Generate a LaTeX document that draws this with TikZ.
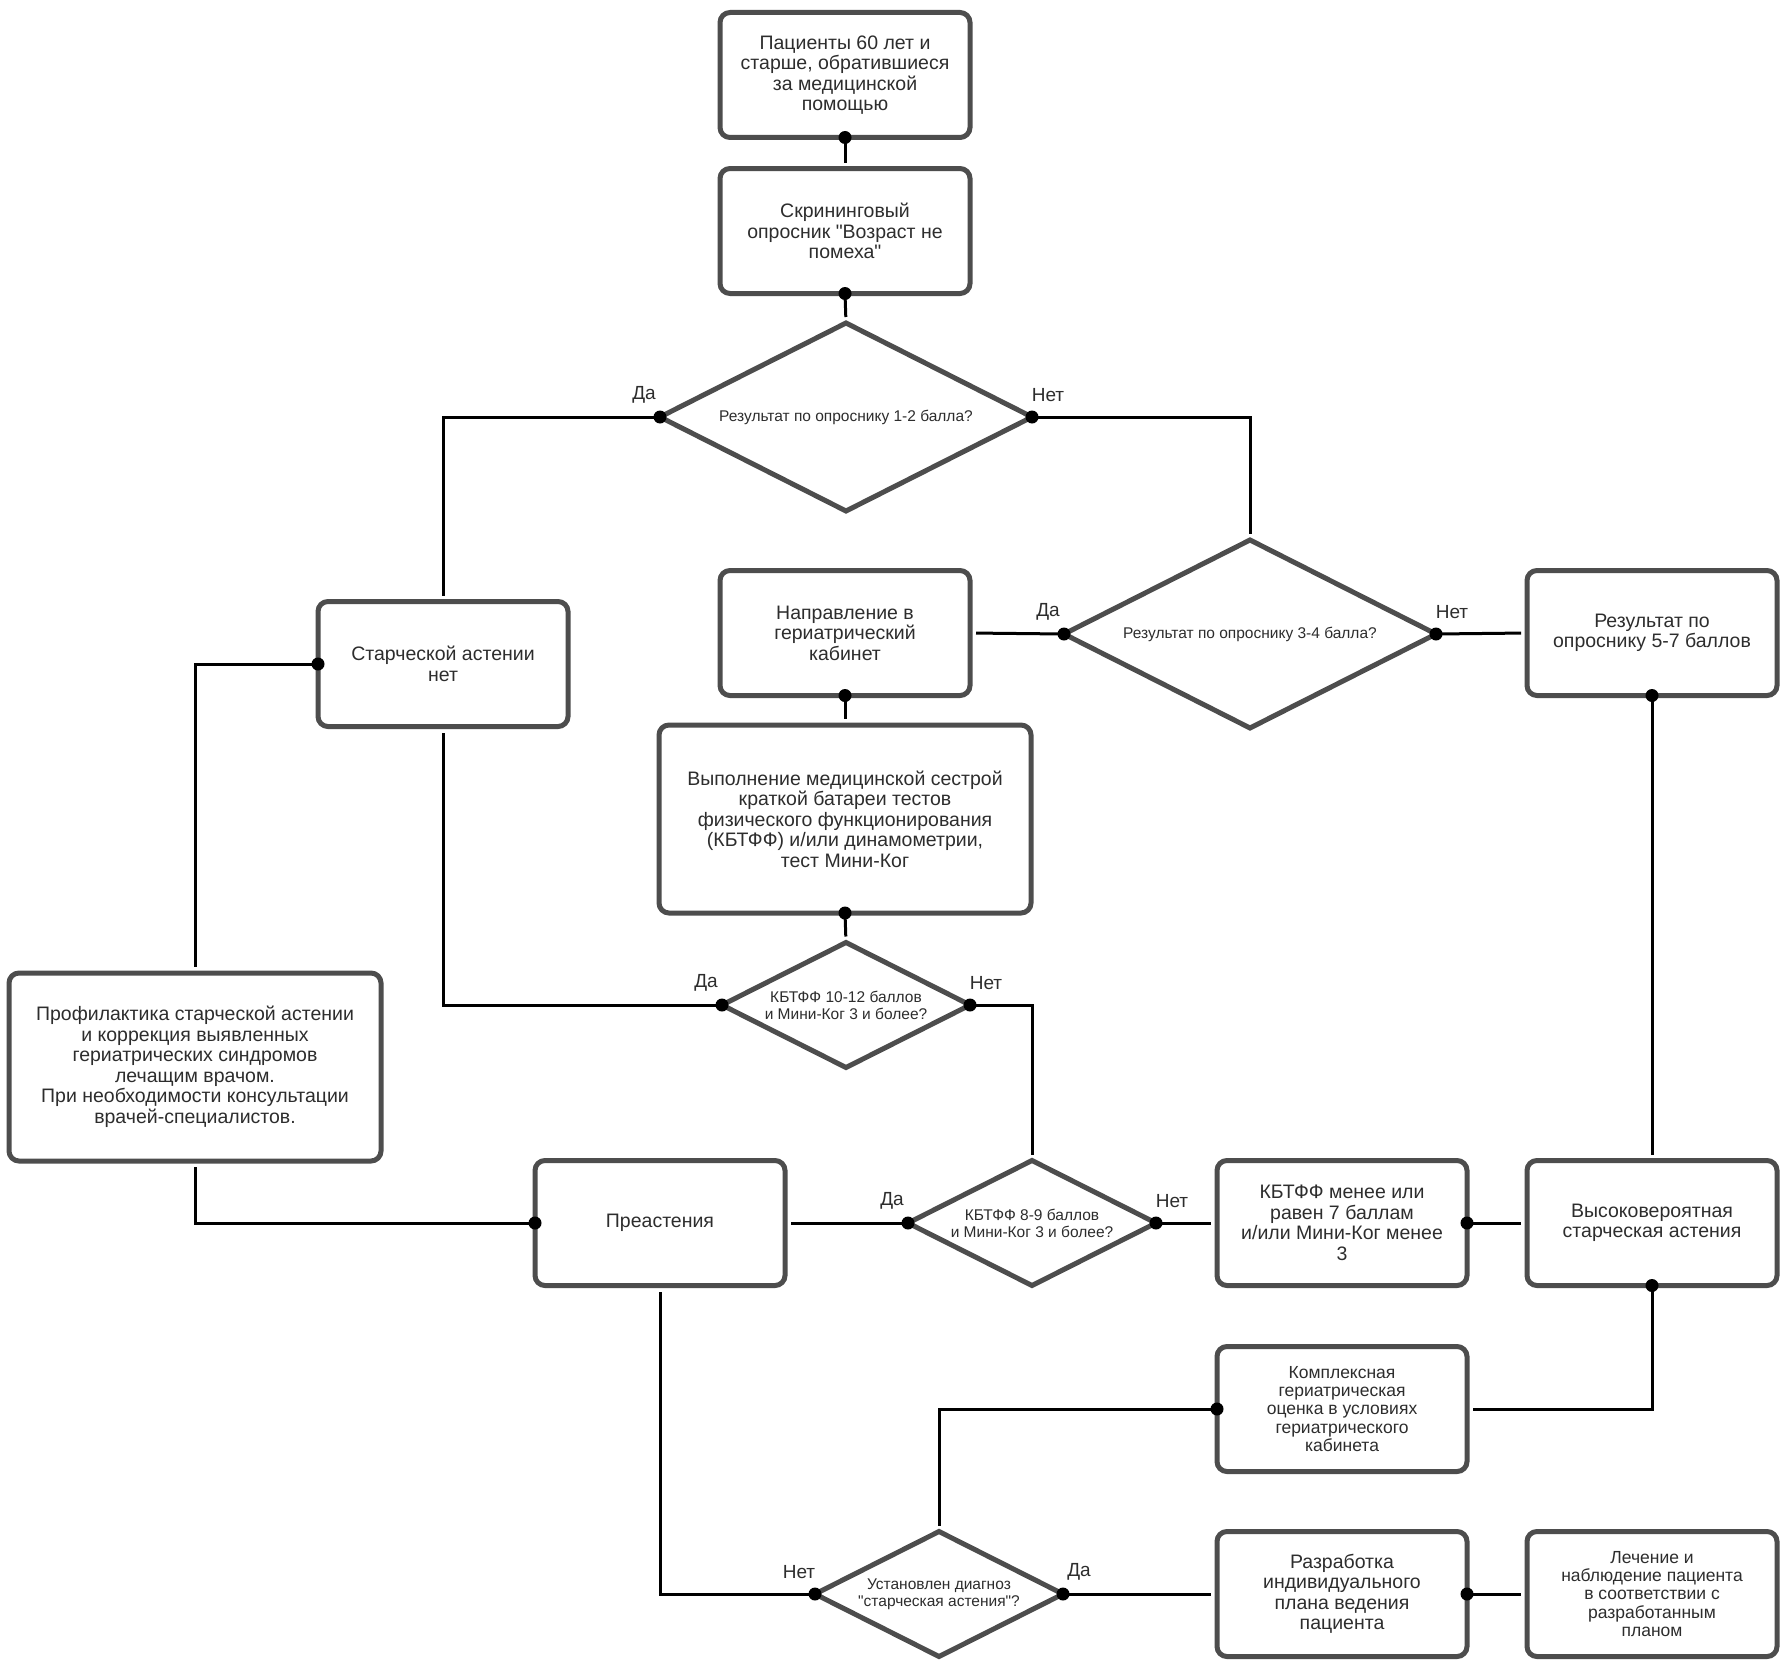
\documentclass[tikz,border=0pt]{standalone}
\usepackage{fontspec}
\setmainfont{Liberation Sans}
\newfontfamily\libsans{Liberation Sans}
\usetikzlibrary{shapes.geometric}
\definecolor{bord}{RGB}{77,77,77}
\definecolor{txt}{RGB}{45,45,45}
\newcommand\dotat[1]{\fill[black] (#1) circle (6.5pt);}
\begin{document}
\begin{tikzpicture}[x=1pt,y=-1pt,
 box/.style={draw=bord, line width=5pt, rounded corners=10pt, fill=white, minimum width=250pt, minimum height=125pt, align=center, outer sep=0pt, inner sep=2pt, text=txt, font=\libsans\fontsize{19.5}{20.5}\selectfont},
 bigbox/.style={box, minimum width=372pt, minimum height=188pt},
 smallfont/.style={font=\libsans\fontsize{17.5}{18.2}\selectfont},
 dia/.style={diamond, draw=bord, line width=5pt, fill=white, aspect=2, inner sep=0pt, outer sep=0pt, align=center, text=txt, font=\libsans\fontsize{15.5}{16.8}\selectfont},
 bigdia/.style={dia, minimum width=372pt, minimum height=188pt},
 smalldia/.style={dia, minimum width=248pt, minimum height=125pt},
 conn/.style={line width=3pt, draw=black, shorten >=6pt},
 lab/.style={text=txt, font=\libsans\fontsize{19}{20}\selectfont},
]
\useasboundingbox[fill=white] (0,0) rectangle (1785,1667);

% nodes
\node[box] (b1) at (845,75) {Пациенты 60 лет и\\старше, обратившиеся\\за медицинской\\помощью};
\node[box] (b2) at (845,231) {Скрининговый\\опросник "Возраст не\\помеха"};
\node[bigdia] (d1) at (846,417) {Результат по опроснику 1-2 балла?};
\node[box] (st) at (443,664) {Старческой астении\\нет};
\node[bigdia] (d2) at (1250,634) {Результат по опроснику 3-4 балла?};
\node[box] (na) at (845,633) {Направление в\\гериатрический\\кабинет};
\node[box] (r57) at (1652,633) {Результат по\\опроснику 5-7 баллов};
\node[bigbox] (vy) at (845,819) {Выполнение медицинской сестрой\\краткой батареи тестов\\физического функционирования\\(КБТФФ) и/или динамометрии,\\тест Мини-Ког};
\node[smalldia] (d3) at (846,1005) {КБТФФ 10-12 баллов\\и Мини-Ког 3 и более?};
\node[bigbox] (pr) at (195,1067) {Профилактика старческой астении\\и коррекция выявленных\\гериатрических синдромов\\лечащим врачом.\\При необходимости консультации\\врачей-специалистов.};
\node[box] (pre) at (660,1223) {Преастения};
\node[smalldia] (d4) at (1032,1223) {КБТФФ 8-9 баллов\\и Мини-Ког 3 и более?};
\node[box] (kb) at (1342,1223) {КБТФФ менее или\\равен 7 баллам\\и/или Мини-Ког менее\\3};
\node[box] (vs) at (1652,1223) {Высоковероятная\\старческая астения};
\node[box, smallfont] (ko) at (1342,1409) {Комплексная\\гериатрическая\\оценка в условиях\\гериатрического\\кабинета};
\node[smalldia] (d5) at (939,1594) {Установлен диагноз\\"старческая астения"?};
\node[box] (ra) at (1342,1594) {Разработка\\индивидуального\\плана ведения\\пациента};
\node[box, smallfont] (le) at (1652,1594) {Лечение и\\наблюдение пациента\\в соответствии с\\разработанным\\планом};

% labels
\node[lab] (l1a) at ([xshift=-16pt,yshift=22pt]d1.west) {Да};
\node[lab] (l1b) at ([xshift=16pt,yshift=22pt]d1.east) {Нет};
\node[lab] (l2a) at ([xshift=-16pt,yshift=22pt]d2.west) {Да};
\node[lab] (l2b) at ([xshift=16pt,yshift=22pt]d2.east) {Нет};
\node[lab] (l3a) at ([xshift=-16pt,yshift=22pt]d3.west) {Да};
\node[lab] (l3b) at ([xshift=16pt,yshift=22pt]d3.east) {Нет};
\node[lab] (l4a) at ([xshift=-16pt,yshift=22pt]d4.west) {Да};
\node[lab] (l4b) at ([xshift=16pt,yshift=22pt]d4.east) {Нет};
\node[lab] (l5a) at ([xshift=-16pt,yshift=22pt]d5.west) {Нет};
\node[lab] (l5b) at ([xshift=16pt,yshift=22pt]d5.east) {Да};

% connectors
\draw[conn] (b1.south) -- (b2.north);
\draw[conn] (b2.south) -- (d1.north);
\draw[conn] (d1.west) -| (st.north);
\draw[conn] (d1.east) -| (d2.north);
\draw[conn] (d2.west) -- (na.east);
\draw[conn] (d2.east) -- (r57.west);
\draw[conn] (na.south) -- (vy.north);
\draw[conn] (vy.south) -- (d3.north);
\draw[conn] (d3.west) -| (st.south);
\draw[conn] (d3.east) -| (d4.north);
\draw[conn] (st.west) -| (pr.north);
\draw[conn] (pre.west) -| (pr.south);
\draw[conn] (d4.west) -- (pre.east);
\draw[conn] (d4.east) -- (kb.west);
\draw[conn] (kb.east) -- (vs.west);
\draw[conn] (r57.south) -- (vs.north);
\draw[conn] (vs.south) |- (ko.east);
\draw[conn] (ko.west) -| (d5.north);
\draw[conn] (d5.west) -| (pre.south);
\draw[conn] (d5.east) -- (ra.west);
\draw[conn] (ra.east) -- (le.west);

% dots
\dotat{b1.south}
\dotat{b2.south}
\dotat{d1.west}
\dotat{d1.east}
\dotat{d2.west}
\dotat{d2.east}
\dotat{na.south}
\dotat{vy.south}
\dotat{d3.west}
\dotat{d3.east}
\dotat{st.west}
\dotat{pre.west}
\dotat{d4.west}
\dotat{d4.east}
\dotat{kb.east}
\dotat{r57.south}
\dotat{vs.south}
\dotat{ko.west}
\dotat{d5.west}
\dotat{d5.east}
\dotat{ra.east}
\end{tikzpicture}
\end{document}
